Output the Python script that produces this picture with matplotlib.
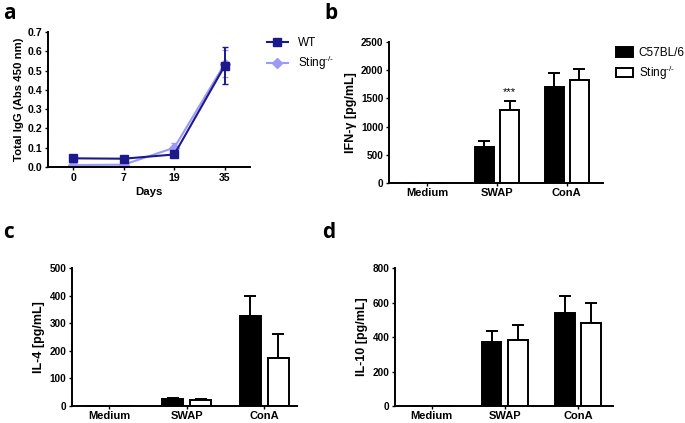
import numpy as np
import matplotlib
matplotlib.use("Agg")
import matplotlib.pyplot as plt

plt.rcParams["font.family"] = ["Liberation Sans", "DejaVu Sans"]
plt.rcParams["mathtext.default"] = "regular"

# ---------------------------------------------------------------------------
# 数据
# ---------------------------------------------------------------------------
days = ["0", "7", "19", "35"]
igg_wt = [0.045, 0.043, 0.065, 0.525]
igg_wt_err = [0.0, 0.0, 0.0, 0.095]
igg_ko = [0.010, 0.012, 0.100, 0.535]
igg_ko_err = [0.0, 0.0, 0.025, 0.070]

groups = ["Medium", "SWAP", "ConA"]

ifng_c57 = [0, 640, 1700]
ifng_c57_err = [0, 110, 250]
ifng_ko = [0, 1300, 1830]
ifng_ko_err = [0, 160, 200]

il4_c57 = [0, 25, 325]
il4_c57_err = [0, 4, 75]
il4_ko = [0, 20, 175]
il4_ko_err = [0, 4, 85]

il10_c57 = [0, 370, 540]
il10_c57_err = [0, 65, 100]
il10_ko = [0, 385, 480]
il10_ko_err = [0, 85, 115]

KO_LABEL = "Sting$^{\u2010/\u2010}$"
WT_COLOR = "#1c1a8a"
KO_COLOR = "#9b9bf5"

# ---------------------------------------------------------------------------
# 画布
# ---------------------------------------------------------------------------
W, H = 685, 423
fig = plt.figure(figsize=(W / 100, H / 100), dpi=100)


def px_axes(left, right, top, bottom):
    return fig.add_axes([left / W, 1 - bottom / H, (right - left) / W, (bottom - top) / H])


def style_axes(ax, xsize, ysize):
    for s in ["top", "right"]:
        ax.spines[s].set_visible(False)
    for s in ["left", "bottom"]:
        ax.spines[s].set_linewidth(1.4)
    ax.tick_params(axis="both", width=1.0, length=2.5, pad=1.5)
    ax.tick_params(axis="x", labelsize=xsize, pad=1)
    ax.tick_params(axis="y", labelsize=ysize)
    for lab in ax.get_xticklabels() + ax.get_yticklabels():
        lab.set_fontweight("bold")


def bar_panel(ax, c57, c57_err, ko, ko_err, ylim, ystep, ylabel, xlim):
    x = np.arange(len(groups))
    w, off = 0.27, 0.18
    ax.bar(x - off, c57, w, color="black", edgecolor="black", linewidth=1.4,
           label="C57BL/6", zorder=2)
    ax.bar(x + off, ko, w, color="white", edgecolor="black", linewidth=1.4,
           label=KO_LABEL, zorder=2)
    # 只画上误差线
    ax.errorbar(x - off, c57, yerr=[np.zeros(len(x)), c57_err], fmt="none",
                ecolor="black", elinewidth=1.4, capsize=4.5, capthick=1.4, zorder=1)
    ax.errorbar(x + off, ko, yerr=[np.zeros(len(x)), ko_err], fmt="none",
                ecolor="black", elinewidth=1.4, capsize=4.5, capthick=1.4, zorder=1)
    ax.set_xticks(x)
    ax.set_xticklabels(groups)
    ax.set_xlim(*xlim)
    ax.set_ylim(*ylim)
    ax.set_yticks(np.arange(ylim[0], ylim[1] + 1, ystep))
    ax.set_ylabel(ylabel, fontsize=9, fontweight="bold", labelpad=3)
    style_axes(ax, 8, 7.2)
    return x, off


# --- a: 总 IgG ---
ax_a = px_axes(48, 250, 32, 167)
xa = np.arange(len(days))
ax_a.errorbar(xa, igg_wt, yerr=igg_wt_err, fmt="none", ecolor=WT_COLOR,
              capsize=2.5, elinewidth=1.4, zorder=3)
ax_a.errorbar(xa, igg_ko, yerr=igg_ko_err, fmt="none", ecolor=KO_COLOR,
              capsize=2.5, elinewidth=1.4, zorder=2)
ax_a.plot(xa, igg_wt, color=WT_COLOR, marker="s", ms=5.5, lw=1.5,
          label="WT", zorder=3)
ax_a.plot(xa, igg_ko, color=KO_COLOR, marker="D", ms=5, lw=1.5,
          label=KO_LABEL, zorder=2)
ax_a.set_xticks(xa)
ax_a.set_xticklabels(days)
ax_a.set_xlim(-0.5, 3.5)
ax_a.set_ylim(0, 0.7)
ax_a.set_yticks(np.arange(0, 0.71, 0.1))
ax_a.set_yticklabels([f"{v:.1f}" for v in np.arange(0, 0.71, 0.1)])
ax_a.set_xlabel("Days", fontsize=8.2, fontweight="bold", labelpad=3)
ax_a.set_ylabel("Total IgG (Abs 450 nm)", fontsize=8.2, fontweight="bold", labelpad=3)
style_axes(ax_a, 7.6, 7.6)
ax_a.tick_params(axis="x", pad=2)
ax_a.legend(loc="upper left", bbox_to_anchor=(1.06, 1.0), frameon=False,
            fontsize=8.5, handlelength=1.8, labelspacing=0.4, borderaxespad=0)

# --- b: IFN-γ ---
ax_b = px_axes(389, 603, 42, 183)
xb, off = bar_panel(ax_b, ifng_c57, ifng_c57_err, ifng_ko, ifng_ko_err,
                    (0, 2500), 500, "IFN-γ [pg/mL]", (-0.55, 2.52))
ax_b.text(xb[1] + off, ifng_ko[1] + ifng_ko_err[1] + 60, "***", ha="center",
          va="bottom", fontsize=8)
ax_b.legend(loc="upper left", bbox_to_anchor=(1.04, 1.0), frameon=False,
            fontsize=8.5, handlelength=1.4, handleheight=0.9, labelspacing=0.4,
            handletextpad=0.5, borderaxespad=0)

# --- c: IL-4 ---
ax_c = px_axes(72, 297, 268, 406)
bar_panel(ax_c, il4_c57, il4_c57_err, il4_ko, il4_ko_err,
          (0, 500), 100, "IL-4 [pg/mL]", (-0.48, 2.42))

# --- d: IL-10 ---
ax_d = px_axes(395, 613, 268, 406)
bar_panel(ax_d, il10_c57, il10_c57_err, il10_ko, il10_ko_err,
          (0, 800), 200, "IL-10 [pg/mL]", (-0.5, 2.48))

# 面板字母
for lab, (xp, yp) in {"a": (3, 3), "b": (324, 3), "c": (3, 222), "d": (322, 222)}.items():
    fig.text(xp / W, 1 - yp / H, lab, fontsize=15, fontweight="bold",
             family=["Open Sans", "DejaVu Sans"], ha="left", va="top")

fig.savefig("out.png", dpi=100)
